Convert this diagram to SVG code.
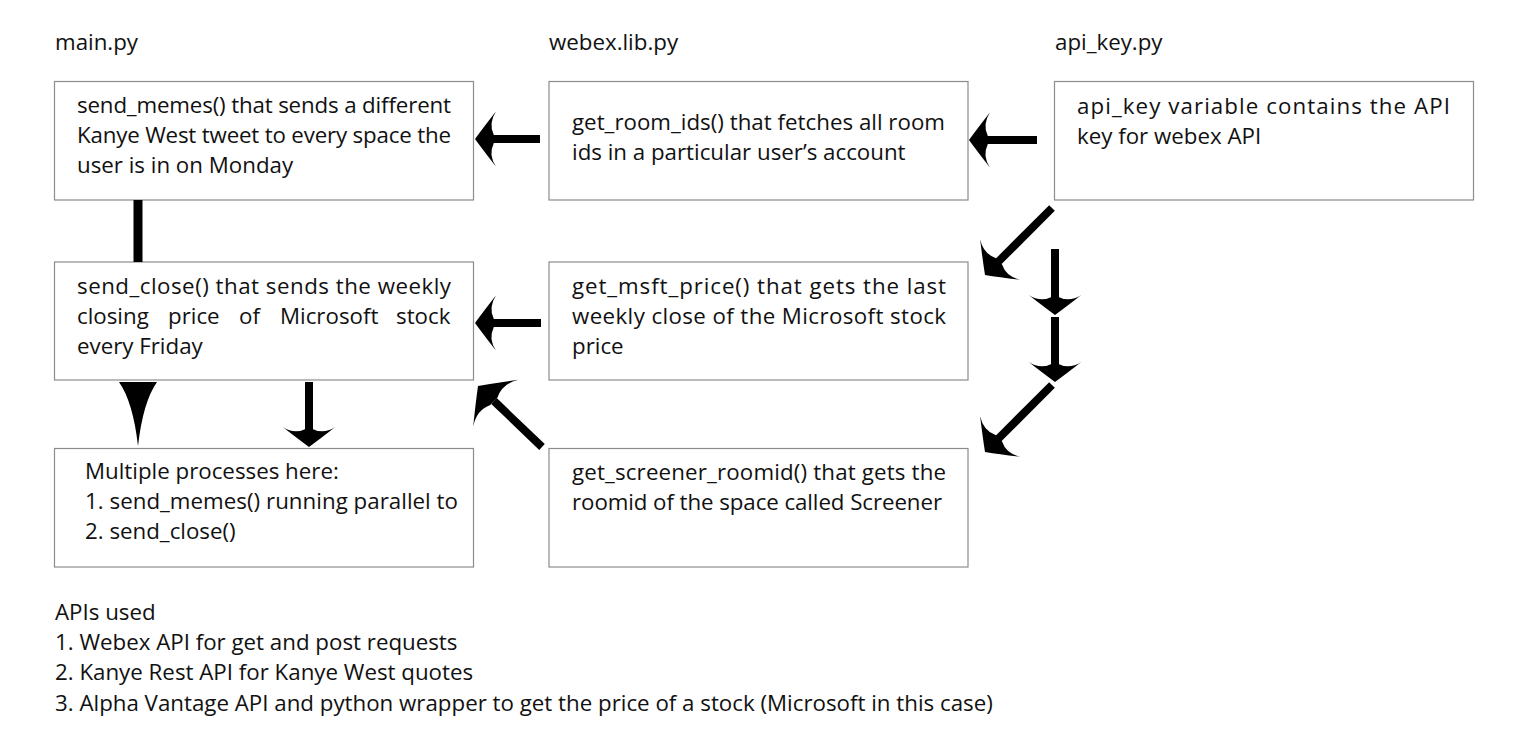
<svg xmlns="http://www.w3.org/2000/svg" width="1522" height="756" viewBox="0 0 1522 756">
<style>
text{font-family:"Open Sans","Noto Sans","Liberation Sans",sans-serif;font-size:22.3px;fill:#111}
.box{fill:#fff;stroke:#8c8c8c;stroke-width:1.2}
.shaft{stroke:#000;stroke-width:8;fill:none}
</style>
<defs>
<path id="head" d="M0,0 Q-8,-11 -19,-25 Q-12,-14 -17,-4 L-17,4 Q-12,14 -19,25 Q-8,11 0,0 Z" fill="#000"/>
</defs>
<rect width="1522" height="756" fill="#fff"/>
<g id="headers">
<text x="55" y="50">main.py</text>
<text x="549" y="50">webex.lib.py</text>
<text x="1055" y="50">api_key.py</text>
</g>
<g id="send_memes">
<rect class="box" x="54.5" y="81.5" width="419" height="118.5"/>
<text x="77" y="113" textLength="374" lengthAdjust="spacing">send_memes() that sends a different</text>
<text x="77" y="143" textLength="374" lengthAdjust="spacing">Kanye West tweet to every space the</text>
<text x="77" y="173">user is in on Monday</text>
</g>
<g id="get_room_ids">
<rect class="box" x="549" y="81.5" width="419" height="118.5"/>
<text x="572" y="130" textLength="373" lengthAdjust="spacing">get_room_ids() that fetches all room</text>
<text x="572" y="160">ids in a particular user’s account</text>
</g>
<g id="api_key">
<rect class="box" x="1054.5" y="81.5" width="419" height="118.5"/>
<text x="1077" y="114" textLength="373" lengthAdjust="spacing">api_key variable contains the API</text>
<text x="1077" y="144">key for webex API</text>
</g>
<g id="send_close">
<rect class="box" x="54.5" y="262" width="419" height="118"/>
<text x="77" y="294" textLength="374" lengthAdjust="spacing">send_close() that sends the weekly</text>
<text y="324"><tspan x="77">closing</tspan><tspan x="168">price</tspan><tspan x="239">of</tspan><tspan x="280">Microsoft</tspan><tspan x="396">stock</tspan></text>
<text x="77" y="354">every Friday</text>
</g>
<g id="get_msft_price">
<rect class="box" x="549" y="262" width="419" height="118"/>
<text x="572" y="294" textLength="374" lengthAdjust="spacing">get_msft_price() that gets the last</text>
<text x="572" y="324" textLength="374" lengthAdjust="spacing">weekly close of the Microsoft stock</text>
<text x="572" y="354">price</text>
</g>
<g id="multiple_processes">
<rect class="box" x="54.5" y="448.5" width="419" height="118.5"/>
<text x="85" y="479">Multiple processes here:</text>
<text x="85" y="509" textLength="373" lengthAdjust="spacing">1. send_memes() running parallel to</text>
<text x="85" y="539">2. send_close()</text>
</g>
<g id="get_screener_roomid">
<rect class="box" x="549" y="448.5" width="419" height="118.5"/>
<text x="572" y="480" textLength="374" lengthAdjust="spacing">get_screener_roomid() that gets the</text>
<text x="572" y="510" textLength="370" lengthAdjust="spacing">roomid of the space called Screener</text>
</g>
<g id="connectors">
<line class="shaft" x1="540" y1="139" x2="490" y2="139"/>
<use href="#head" transform="translate(475,139) rotate(180) scale(1.1)"/>
<line class="shaft" x1="1037" y1="140" x2="984" y2="140"/>
<use href="#head" transform="translate(969,140) rotate(180) scale(1.1)"/>
<line class="shaft" x1="541" y1="323" x2="490" y2="323"/>
<use href="#head" transform="translate(475,323) rotate(180) scale(1.1)"/>
<line class="shaft" x1="542" y1="447" x2="494" y2="401"/>
<use href="#head" transform="translate(478,386) rotate(-136) scale(1.3)"/>
<line class="shaft" x1="1052" y1="208" x2="997" y2="263"/>
<use href="#head" transform="translate(985,275) rotate(135) scale(1.15)"/>
<line class="shaft" x1="1055" y1="249" x2="1055" y2="300"/>
<use href="#head" transform="translate(1055,315) rotate(90) scale(1.05)"/>
<line class="shaft" x1="1055" y1="317" x2="1055" y2="367"/>
<use href="#head" transform="translate(1055,382) rotate(90) scale(1.05)"/>
<line class="shaft" x1="1052" y1="385" x2="997" y2="440"/>
<use href="#head" transform="translate(985,452) rotate(135) scale(1.15)"/>
<line x1="138" y1="200" x2="138" y2="262" stroke="#000" stroke-width="9"/>
<path d="M119,382 L157,382 Q143,402 138,446 Q133,402 119,382 Z" fill="#000"/>
<line class="shaft" x1="309" y1="382" x2="309" y2="432"/>
<use href="#head" transform="translate(309,447) rotate(90) scale(1.05)"/>
</g>
<g id="apis_used">
<text x="55" y="620">APIs used</text>
<text x="55" y="650">1. Webex API for get and post requests</text>
<text x="55" y="680">2. Kanye Rest API for Kanye West quotes</text>
<text x="55" y="711">3. Alpha Vantage API and python wrapper to get the price of a stock (Microsoft in this case)</text>
</g>
</svg>
